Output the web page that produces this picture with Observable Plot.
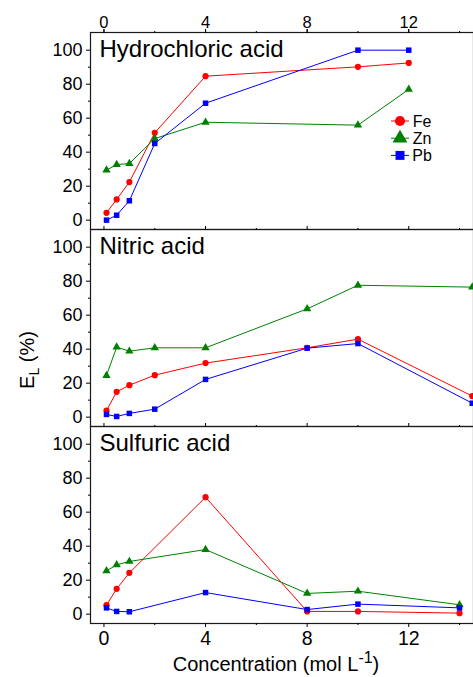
<!DOCTYPE html>
<html><head><meta charset="utf-8">
<script src="https://cdn.jsdelivr.net/npm/d3@7"></script>
<script src="https://cdn.jsdelivr.net/npm/@observablehq/plot@0.6"></script>
<style>
body{margin:0;background:#fff;overflow:hidden}
#chart{position:relative;width:473px;height:677px}
</style>
</head><body><div id="chart"></div>
<script>
const acids = ["Hydrochloric acid", "Nitric acid", "Sulfuric acid"];
const metals = ["Fe", "Zn", "Pb"];
const concHCl = [0.1, 0.5, 1, 2, 4, 10, 12];
const concHNO3 = [0.1, 0.5, 1, 2, 4, 8, 10, 14.5];
const concH2SO4 = [0.1, 0.5, 1, 4, 8, 10, 14];
const hclFe = [4.3, 12.2, 22.4, 51.4, 84.7, 90.2, 92.5];
const hclZn = [29.4, 32.7, 33.3, 48, 57.6, 55.9, 76.9];
const hclPb = [0, 2.9, 11.4, 45.1, 68.8, 100, 100];
const hno3Fe = [3.9, 14.9, 18.8, 24.7, 31.8, 40.8, 45.9, 12.4];
const hno3Zn = [24.5, 41.2, 38.8, 40.8, 40.8, 63.7, 77.6, 76.5];
const hno3Pb = [1.6, 0.4, 2.2, 4.7, 22.2, 40.6, 43.3, 8.2];
const h2so4Fe = [5.3, 14.9, 24.3, 68.8, 1.6, 1.6, 0.6];
const h2so4Zn = [25.5, 29, 31, 38, 12.2, 13.5, 5.5];
const h2so4Pb = [3.7, 1.6, 1.4, 12.7, 2.7, 5.9, 3.7];
const xTicks = [0, 4, 8, 12];
const xMinor = [2, 6, 10, 14];
const yTicks = [0, 20, 40, 60, 80, 100];
const yMinor = [10, 30, 50, 70, 90];
const colors = ["#ff0000", "#008000", "#0000ff"];
const symbols = ["circle", "triangle", "square"];

const table = [
  [acids[0], concHCl, [hclFe, hclZn, hclPb]],
  [acids[1], concHNO3, [hno3Fe, hno3Zn, hno3Pb]],
  [acids[2], concH2SO4, [h2so4Fe, h2so4Zn, h2so4Pb]]
];
const rows = [];
for (const [acid, conc, series] of table) {
  series.forEach((vals, mi) => {
    vals.forEach((v, i) => rows.push({acid, metal: metals[mi], conc: conc[i], el: v}));
  });
}

const font = "'Liberation Sans', Arial, Helvetica, sans-serif";
const plot = Plot.plot({
  width: 473, height: 677,
  marginTop: 32, marginBottom: 54, marginLeft: 90, marginRight: 0,
  style: {fontFamily: font, color: "#000", background: "#fff"},
  x: {domain: [-0.53, 14.55], label: null},
  y: {domain: [-5.5, 110.4], label: null},
  fy: {domain: acids, padding: 0, axis: null, label: null},
  color: {domain: metals, range: colors},
  symbol: {domain: metals, range: symbols},
  marks: [
    Plot.frame({stroke: "#1a1a1a", strokeWidth: 1.2}),
    Plot.axisY({ticks: yTicks, tickSize: 4, tickPadding: 4, fontSize: 18, label: null}),
    Plot.axisY({ticks: yMinor, tickSize: 2, tickFormat: () => "", label: null}),
    Plot.axisX({anchor: "top", ticks: xTicks, tickSize: 4, tickPadding: 1, fontSize: 16.5, label: null}),
    Plot.axisX({anchor: "top", ticks: xTicks, tickSize: 4, tickFormat: () => "", facetAnchor: null, label: null}),
    Plot.axisX({anchor: "top", ticks: xMinor, tickSize: 2, tickFormat: () => "", facetAnchor: null, label: null}),
    Plot.axisX({anchor: "bottom", ticks: xTicks, tickSize: 4, tickPadding: 4, fontSize: 19.5, label: null}),
    Plot.axisX({anchor: "bottom", ticks: xMinor, tickSize: 2, tickFormat: () => "", label: null}),
    Plot.line(rows, {x: "conc", y: "el", z: "metal", stroke: "metal", fy: "acid", strokeWidth: 1}),
    Plot.dot(rows, {x: "conc", y: "el", fill: "metal", symbol: "metal", fy: "acid", r: 3.1}),
    Plot.text(acids, {fy: d => d, text: d => d, frameAnchor: "top-left", lineAnchor: "top", dx: 9, dy: 7, fontSize: 24, fill: "#000"})
  ]
});

const svg = d3.select(plot);
// Y label
const yl = svg.append("text")
  .attr("transform", "translate(34,360) rotate(-90)")
  .attr("text-anchor", "middle").attr("font-size", 20).attr("fill", "#000");
yl.append("tspan").text("E");
yl.append("tspan").attr("font-size", 14).attr("dy", 5).text("L");
yl.append("tspan").attr("dy", -5).text(" (%)");

// X label
const xl = svg.append("text")
  .attr("x", 276).attr("y", 671)
  .attr("text-anchor", "middle").attr("font-size", 20).attr("fill", "#000");
xl.append("tspan").text("Concentration (mol L");
xl.append("tspan").attr("dy", -8).attr("font-size", 16).text("-1");
xl.append("tspan").attr("dy", 8).text(")");

// Legend
const symTypes = [d3.symbolCircle, d3.symbolTriangle, d3.symbolSquare];
const symSizes = [80, 95, 80];
metals.forEach((m, i) => {
  const g = svg.append("g").attr("transform", `translate(400,${121 + i * 17.2})`);
  g.append("line").attr("x1", -9).attr("x2", 9).attr("stroke", colors[i]).attr("stroke-width", 1);
  g.append("path").attr("d", d3.symbol(symTypes[i], symSizes[i])()).attr("fill", colors[i]);
  g.append("text").attr("x", 22).attr("dy", "0.36em").attr("font-size", 16).attr("fill", "#000").text(m);
});

document.getElementById("chart").appendChild(plot);
</script>
</body></html>
